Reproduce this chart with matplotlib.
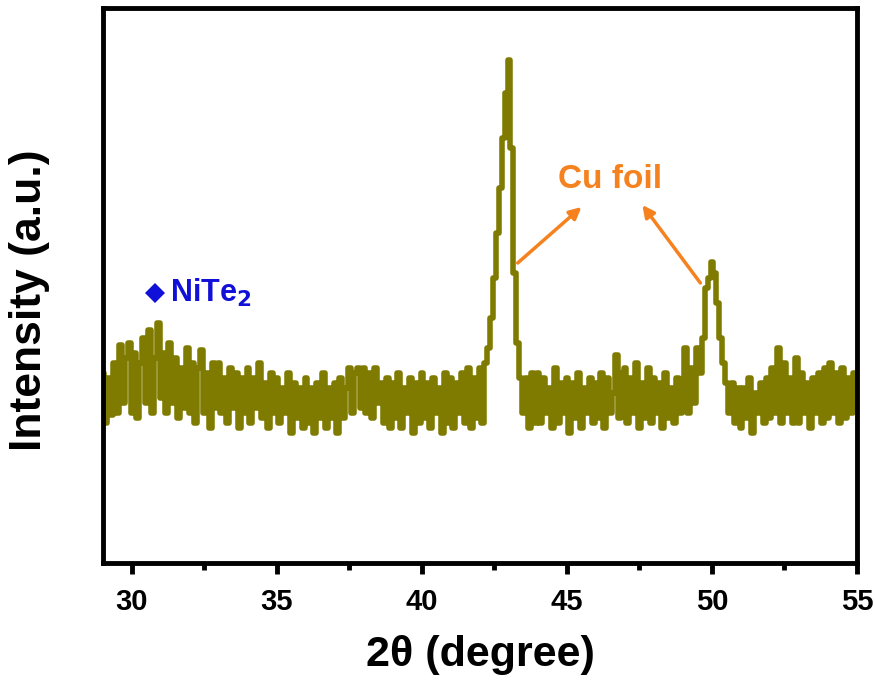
import numpy as np
import matplotlib.pyplot as plt
from matplotlib.ticker import MultipleLocator

plt.rcParams['font.family'] = ['Liberation Sans', 'DejaVu Sans']
plt.rcParams['font.weight'] = 'bold'

# XRD scan, 29-55 deg in 0.1 deg steps (arbitrary intensity units)
two_theta_start, two_theta_step = 29.0, 0.1
intensity = [
    190, 140, 185, 148, 200, 150, 218, 160, 205, 220,   # 29
    150, 210, 145, 200, 225, 160, 233, 150, 205, 240,   # 30
    165, 210, 150, 220, 160, 205, 145, 195, 155, 215,   # 31
    150, 200, 140, 195, 213, 150, 190, 135, 200, 155,   # 32
    200, 150, 185, 140, 195, 155, 190, 135, 185, 150,   # 33
    195, 140, 185, 155, 200, 145, 180, 135, 190, 150,   # 34
    185, 140, 175, 150, 190, 130, 180, 145, 175, 135,   # 35
    185, 140, 175, 130, 180, 145, 190, 135, 175, 145,   # 36
    180, 130, 185, 145, 175, 195, 150, 190, 195, 155,   # 37
    195, 150, 190, 145, 195, 160, 180, 140, 185, 135,   # 38
    180, 145, 190, 135, 175, 150, 185, 130, 180, 140,   # 39
    190, 145, 180, 135, 185, 150, 175, 130, 190, 140,   # 40
    185, 135, 180, 150, 190, 140, 195, 135, 185, 145,   # 41
    195, 140, 200, 215, 245, 285, 330, 375, 425, 470,   # 42
    503, 415, 290, 220, 185, 150, 185, 135, 190, 140,   # 43
    190, 140, 185, 150, 175, 135, 195, 140, 180, 150,   # 44
    185, 130, 180, 145, 190, 135, 175, 150, 185, 140,   # 45
    180, 145, 190, 135, 185, 150, 170, 208, 145, 190,   # 46
    195, 140, 185, 150, 200, 135, 180, 145, 195, 140,   # 47
    185, 150, 180, 135, 190, 145, 175, 140, 185, 150,   # 48
    180, 215, 150, 195, 160, 215, 190, 225, 275, 285,   # 49
    301, 290, 260, 225, 200, 180, 150, 180, 140, 175,   # 50
    135, 175, 145, 185, 130, 170, 150, 180, 140, 185,   # 51
    145, 195, 150, 215, 140, 200, 150, 185, 140, 205,   # 52
    140, 190, 150, 180, 135, 185, 150, 190, 140, 195,   # 53
    145, 200, 150, 190, 140, 195, 145, 185, 150, 190,   # 54
    170,                                               # 55
]
two_theta = two_theta_start + two_theta_step * np.arange(len(intensity))

line_color = '#7f7b00'
label_color = '#f5821f'
phase_color = '#1010d8'

fig = plt.figure(figsize=(8.75, 6.83), dpi=100)
ax = fig.add_axes([0.1177, 0.1757, 0.8617, 0.8126])

ax.plot(two_theta, intensity, color=line_color, lw=4, drawstyle='steps-mid')

ax.set_xlim(29, 55)
ax.set_ylim(0, 555)
ax.xaxis.set_major_locator(MultipleLocator(5))
ax.xaxis.set_minor_locator(MultipleLocator(2.5))
ax.set_yticks([])
ax.tick_params(axis='x', which='major', direction='out', length=8, width=3.5,
               labelsize=21, pad=10)
ax.tick_params(axis='x', which='minor', direction='out', length=5, width=3.5)
for s in ax.spines.values():
    s.set_linewidth(3.5)

ax.set_xlabel('2θ (degree)', fontsize=31, fontweight='bold', labelpad=14)
ax.set_ylabel('Intensity (a.u.)', fontsize=32, fontweight='bold')
ax.yaxis.set_label_coords(-0.07, 0.474)

# phase marker
ax.plot([30.8], [270], marker='D', ms=10, color=phase_color, markeredgewidth=0)
ax.text(31.3, 270, 'NiTe$_\\mathbf{2}$', color=phase_color, fontsize=22,
        fontweight='bold', va='center', ha='left')

# substrate peaks
ax.text(46.5, 383, 'Cu foil', color=label_color, fontsize=24,
        fontweight='bold', ha='center', va='center')
arrow_kw = dict(arrowstyle='-|>,head_length=0.7,head_width=0.35', color=label_color,
                lw=2.5, shrinkA=0, shrinkB=0)
ax.annotate('', xy=(45.5, 356), xytext=(43.3, 300), arrowprops=arrow_kw)
ax.annotate('', xy=(47.6, 358), xytext=(49.6, 280), arrowprops=arrow_kw)

fig.savefig('out.png', dpi=100)
